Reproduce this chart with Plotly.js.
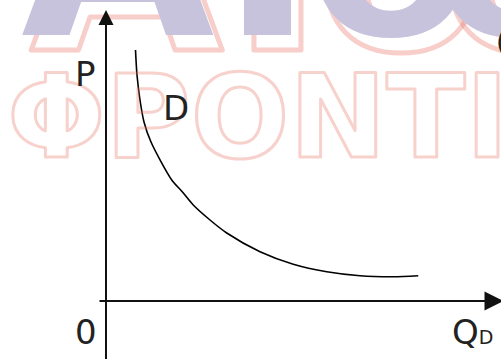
<!DOCTYPE html>
<html>
<head>
<meta charset="utf-8">
<script src="https://cdn.plot.ly/plotly-3.0.1.min.js"></script>
<style>
  html, body { margin: 0; padding: 0; background: #fff; }
  #chart { width: 501px; height: 359px; }
</style>
</head>
<body>
<div id="chart"></div>
<script>
// demand curve D
var quantity = [1.18, 1.24, 1.36, 1.52, 1.80, 2.63, 3.04, 3.49, 4.16, 4.83, 6.16, 7.49, 8.83, 10.16, 11.49, 12.49];
var price    = [10.04, 9.04, 8.04, 7.16, 6.36, 4.84, 4.38, 3.84, 3.24, 2.72, 1.97, 1.47, 1.17, 1.01, 0.97, 1.01];

// axis labels and where they sit
var labelText = ['P', 'D', '0', 'Q<span style="font-size:19px">D</span>'];
var labelQ = [-0.82, 2.8, -0.8, 14.64];
var labelP = [9.1, 7.72, -1.24, -1.24];

// watermark: top letters (only their lower part shows) and the outlined word
var markTopLetters = ['Α', 'Ι', 'Ο', 'Ο'];
var markTopCenters = [117, 267, 391, 515];
var markTopSizes = [250, 250, 200, 200];
var markMid = 'ΦΡΟΝΤΙΣΤΗΡΙΑ';

var markFont = 'DejaVu Sans';
var annotations = [];
var outlineCss = [];

function markLetter(i, dx, dy, color) {
    var s = markTopSizes[i];
    annotations.push({
        text: markTopLetters[i], xref: 'paper', yref: 'paper',
        x: (markTopCenters[i] + dx) / 501, y: 1 - (35 + 0.236 * s + 2 + dy) / 359,
        xanchor: 'center', yanchor: 'bottom', showarrow: false,
        font: { family: markFont, size: s, weight: 'bold', color: color }
    });
}

// pink shadow copies first, filled letters on top
for (var i = 0; i < markTopLetters.length; i++) {
    outlineCss.push('.annotation[data-index="' + annotations.length + '"] .annotation-text' +
        '{stroke: rgba(232,120,105,0.36); stroke-width: 5px; stroke-linejoin: round;}');
    markLetter(i, 10, 15, 'rgba(0,0,0,0)');
}
for (var i = 0; i < markTopLetters.length; i++) {
    markLetter(i, 0, 0, '#c8c3dc');
}

outlineCss.push('.annotation[data-index="' + annotations.length + '"] .annotation-text' +
    '{stroke: rgba(232,120,105,0.34); stroke-width: 3px; stroke-linejoin: round;}');
annotations.push({
    text: markMid, xref: 'paper', yref: 'paper', x: 5/501, y: 1 - 47/359,
    xanchor: 'left', yanchor: 'top', showarrow: false,
    font: { family: markFont, size: 116, weight: 'bold', color: 'rgba(0,0,0,0)' }
});

annotations.push({
    text: '(', xref: 'paper', yref: 'paper', x: 494/501, y: 1 - 42/359,
    xanchor: 'left', yanchor: 'middle', showarrow: false,
    font: { family: 'DejaVu Sans', size: 28, color: '#222' }
});

// P axis and Q axis with arrow heads
annotations.push({
    text: '', x: 0, y: 11.64, ax: 0, ay: -2.4, xref: 'x', yref: 'y', axref: 'x', ayref: 'y',
    showarrow: true, arrowhead: 2, arrowsize: 1.5, arrowwidth: 2, arrowcolor: '#111', standoff: 0
});
annotations.push({
    text: '', x: 15.9, y: 0, ax: -0.32, ay: 0, xref: 'x', yref: 'y', axref: 'x', ayref: 'y',
    showarrow: true, arrowhead: 2, arrowsize: 1.9, arrowwidth: 2, arrowcolor: '#111', standoff: 0
});

for (var i = 0; i < labelText.length; i++) {
    annotations.push({
        text: labelText[i], x: labelQ[i], y: labelP[i], xref: 'x', yref: 'y',
        xanchor: 'center', yanchor: 'middle', showarrow: false,
        font: { family: 'DejaVu Sans', size: 34, color: '#222' }
    });
}

var css = document.createElement('style');
css.textContent = outlineCss.join('\n');
document.head.appendChild(css);

var data = [{
    x: quantity,
    y: price,
    type: 'scatter',
    mode: 'lines',
    line: { color: '#000', width: 1.6, shape: 'spline', smoothing: 0.8 },
    hoverinfo: 'skip'
}];

var layout = {
    width: 501,
    height: 359,
    margin: { l: 0, r: 0, t: 0, b: 0 },
    paper_bgcolor: '#fff',
    plot_bgcolor: '#fff',
    showlegend: false,
    xaxis: { range: [-4.24, 15.8], visible: false },
    yaxis: { range: [-2.32, 12.04], visible: false },
    annotations: annotations
};

Plotly.newPlot('chart', data, layout, { staticPlot: true });
</script>
</body>
</html>
